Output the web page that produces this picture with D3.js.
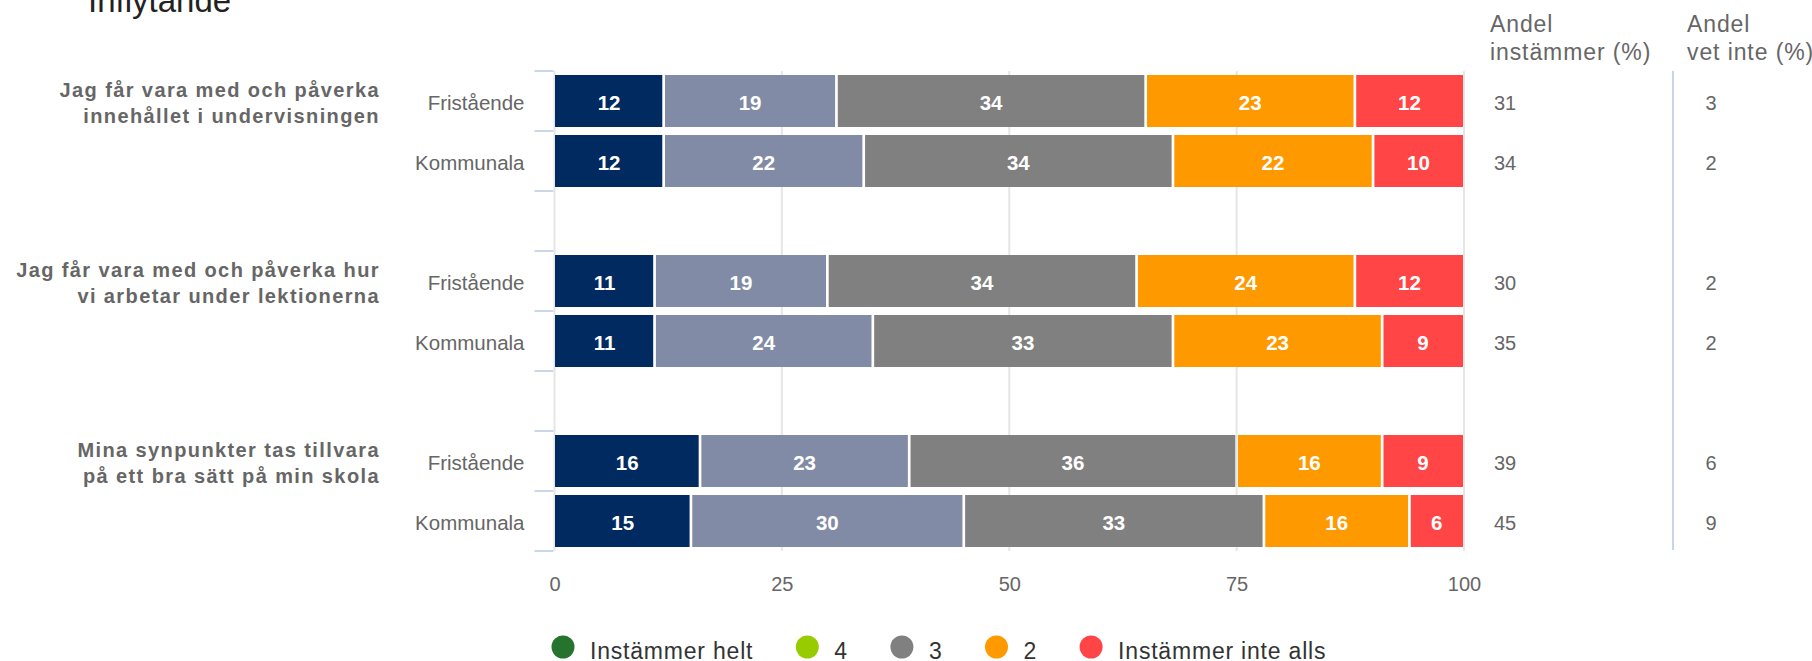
<!DOCTYPE html>
<html>
<head>
<meta charset="utf-8">
<script src="https://cdn.jsdelivr.net/npm/d3@7/dist/d3.min.js"></script>
<style>
  html, body { margin: 0; padding: 0; background: #fff; }
  svg { display: block; font-family: "Liberation Sans", Arial, Helvetica, sans-serif; }
</style>
</head>
<body>
<svg id="chart" width="1812" height="661"></svg>
<script>
// ---- Data ----
const title = "Inflytande";
const questions = [
  ["Jag får vara med och påverka", "innehållet i undervisningen"],
  ["Jag får vara med och påverka hur", "vi arbetar under lektionerna"],
  ["Mina synpunkter tas tillvara", "på ett bra sätt på min skola"]
];
const schoolTypes = ["Fristående", "Kommunala"];
const seriesNames = ["Instämmer helt", "4", "3", "2", "Instämmer inte alls"];

// one value per bar, in order: Q1 Fristående, Q1 Kommunala, Q2 F, Q2 K, Q3 F, Q3 K
const instammerHelt = [12, 12, 11, 11, 16, 15];
const svar4         = [19, 22, 19, 24, 23, 30];
const svar3         = [34, 34, 34, 33, 36, 33];
const svar2         = [23, 22, 24, 23, 16, 16];
const instammerInteAlls = [12, 10, 12, 9, 9, 6];

const andelInstammer = [31, 34, 30, 35, 39, 45];
const andelVetInte   = [3, 2, 2, 2, 6, 9];

const xTicks = [0, 25, 50, 75, 100];

const barColors    = ["#002a60", "#818ba6", "#808080", "#ff9900", "#ff4545"];
const legendColors = ["#26732e", "#99cc00", "#808080", "#ff9900", "#ff4545"];

// ---- Layout ----
const svg = d3.select("#chart");
const plotTop = 71, plotBottom = 551;
const font = '"Liberation Sans", Arial, Helvetica, sans-serif';

// Slots: two bars per question, one empty slot between questions
const slots = [];
questions.forEach((q, qi) => {
  schoolTypes.forEach((s, si) => slots.push({ key: `q${qi}-${si}`, label: s, row: qi * 2 + si, q: qi, s: si }));
  if (qi < questions.length - 1) slots.push({ key: `gap${qi}`, label: "", row: null });
});

const x = d3.scaleLinear().domain([0, 100]).range([554.5, 1464]);
const y = d3.scaleBand()
  .domain(slots.map(d => d.key))
  .range([plotTop, plotBottom])
  .paddingInner(8 / 60)
  .paddingOuter(4 / 60);

// Title
svg.append("text")
  .attr("x", 88).attr("y", 12)
  .attr("font-size", 33).attr("fill", "#222")
  .text(title);

// Vertical grid lines
svg.append("g").selectAll("line")
  .data(xTicks).join("line")
  .attr("x1", d => x(d)).attr("x2", d => x(d))
  .attr("y1", plotTop).attr("y2", plotBottom)
  .attr("stroke", "#e6e6e6").attr("stroke-width", 2);

// Category tick marks on slot boundaries
const boundaries = d3.range(slots.length + 1).map(i => plotTop + i * y.step());
svg.append("g").selectAll("line")
  .data(boundaries).join("line")
  .attr("x1", x(0) - 20).attr("x2", x(0) - 1)
  .attr("y1", d => d).attr("y2", d => d)
  .attr("stroke", "#ccd6eb").attr("stroke-width", 2);

// Stacked bars
const barRows = slots.filter(d => d.row !== null);
const seriesValues = [instammerHelt, svar4, svar3, svar2, instammerInteAlls];
const stackData = barRows.map(r => {
  const o = { key: r.key, row: r.row };
  seriesNames.forEach((n, i) => { o[n] = seriesValues[i][r.row]; });
  return o;
});
const stacked = d3.stack().keys(seriesNames)(stackData);
const gap = 1.35;

const segG = svg.append("g").selectAll("g")
  .data(stacked).join("g")
  .attr("fill", (d, i) => barColors[i]);

segG.selectAll("rect")
  .data((d, i) => d.map(p => ({ p, i })))
  .join("rect")
  .attr("x", ({ p, i }) => x(p[0]) + (i > 0 ? gap : 0.5))
  .attr("y", ({ p }) => y(p.data.key))
  .attr("width", ({ p, i }) => x(p[1]) - x(p[0]) - (i > 0 ? gap : 0.5) - (i < seriesNames.length - 1 ? gap : 1))
  .attr("height", y.bandwidth());

// Value labels inside segments
const labelG = svg.append("g")
  .attr("font-size", 20.5).attr("font-weight", "bold").attr("fill", "#fff")
  .attr("text-anchor", "middle");
stacked.forEach((s) => {
  labelG.selectAll(null)
    .data(s).join("text")
    .attr("x", p => (x(p[0]) + x(p[1])) / 2)
    .attr("y", p => y(p.data.key) + y.bandwidth() / 2 + 8.5)
    .text(p => p[1] - p[0]);
});

// Category axis labels (school type)
const yAxis = d3.axisLeft(y)
  .tickSize(0).tickPadding(30)
  .tickFormat(k => slots.find(s => s.key === k).label);
const yAxisG = svg.append("g").attr("transform", `translate(${x(0)},0)`).call(yAxis);
yAxisG.select(".domain").remove();
yAxisG.selectAll("text")
  .attr("font-family", font).attr("font-size", 20.5).attr("fill", "#666")
  .attr("dy", "0.44em");

// Question labels
const qG = svg.append("g")
  .attr("font-size", 20).attr("font-weight", "bold").attr("fill", "#666")
  .attr("text-anchor", "end").attr("letter-spacing", 1.4);
const qx = 380;
questions.forEach((lines, qi) => {
  const cy = y(`q${qi}-0`) + y.bandwidth() / 2;
  const t = qG.append("text").attr("x", qx).attr("y", cy - 4.5);
  lines.forEach((ln, li) => {
    t.append("tspan").attr("x", qx).attr("dy", li === 0 ? 0 : 26.5).text(ln);
  });
});

// Value axis
const xAxis = d3.axisBottom(x).tickValues(xTicks).tickSize(0).tickPadding(26);
const xAxisG = svg.append("g").attr("transform", `translate(0,${plotBottom})`).call(xAxis);
xAxisG.select(".domain").remove();
xAxisG.selectAll("text")
  .attr("font-family", font).attr("font-size", 20).attr("fill", "#666");

// Side columns
const colInst = 1490, colVet = 1687;
const headG = svg.append("g").attr("font-size", 23).attr("fill", "#666").attr("letter-spacing", 0.9);
[[colInst, ["Andel", "instämmer (%)"]], [colVet, ["Andel", "vet inte (%)"]]].forEach(([cx, lines]) => {
  const t = headG.append("text").attr("x", cx).attr("y", 32);
  lines.forEach((ln, li) => t.append("tspan").attr("x", cx).attr("dy", li === 0 ? 0 : 28).text(ln));
});

svg.append("line")
  .attr("x1", 1673).attr("x2", 1673)
  .attr("y1", plotTop).attr("y2", plotBottom - 1)
  .attr("stroke", "#c9d4e8").attr("stroke-width", 2);

const valG = svg.append("g").attr("font-size", 20).attr("fill", "#666");
valG.selectAll(".inst").data(barRows).join("text")
  .attr("class", "inst")
  .attr("x", colInst + 4)
  .attr("y", r => y(r.key) + y.bandwidth() / 2 + 9)
  .text(r => andelInstammer[r.row]);
valG.selectAll(".vet").data(barRows).join("text")
  .attr("class", "vet")
  .attr("text-anchor", "middle")
  .attr("x", colVet + 24)
  .attr("y", r => y(r.key) + y.bandwidth() / 2 + 9)
  .text(r => andelVetInte[r.row]);

// Legend
const legendG = svg.append("g").attr("font-size", 23).attr("fill", "#333").attr("letter-spacing", 0.8);
let lx = 563;
seriesNames.forEach((n, i) => {
  legendG.append("circle").attr("cx", lx).attr("cy", 647).attr("r", 11.5).attr("fill", legendColors[i]);
  const t = legendG.append("text").attr("x", lx + 27).attr("y", 659).text(n);
  const w = t.node().getComputedTextLength();
  lx = lx + 27 + w + 54;
});
</script>
</body>
</html>
